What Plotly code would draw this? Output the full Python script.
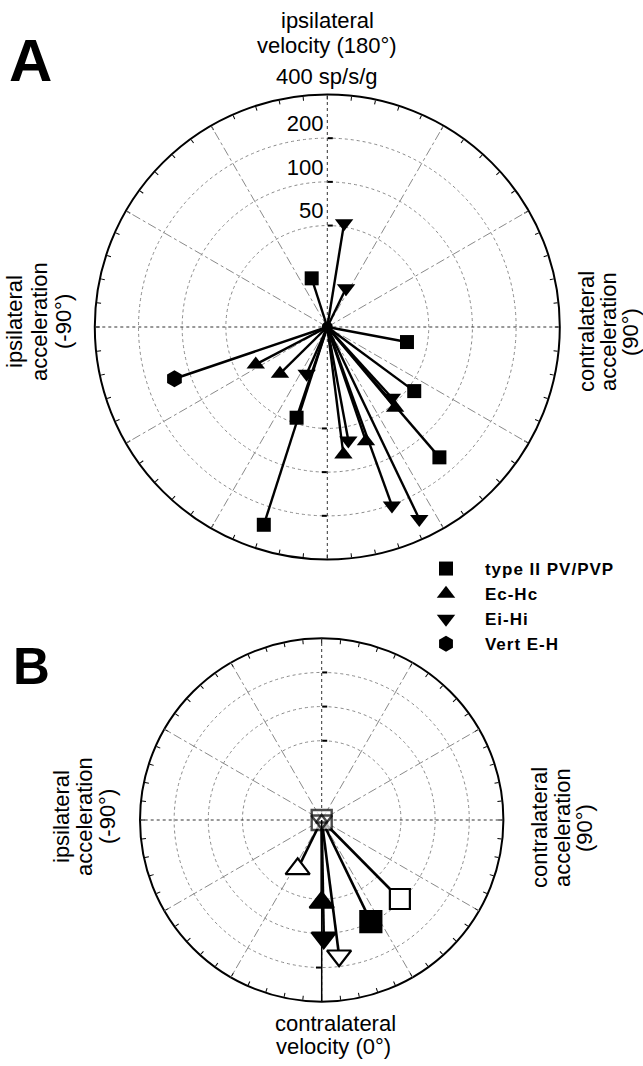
import math
import plotly.graph_objects as go

FONT = "Liberation Sans, Arial, Helvetica, sans-serif"

# ---------------- data (r in sp/s/g, theta in degrees: 0 = contralateral velocity) ----------------
R_MIN = 10          # centre of the log radial axis (vectors start here)
R_MAX = 400         # outer ring
RING_VALS = [50, 100, 200]
RING_TEXT = ["50", "100", "200"]

# Panel A
a_type2_theta = [197.8, 79.3, 53.6, 40.7, -18.7, -17.8]
a_type2_r = [22.5, 36.2, 55.5, 153, 45.7, 270]
a_echc_theta = [40.0, 18.7, 7.2, -45.4, -62.4]
a_echc_r = [53.3, 67.8, 76.9, 28.7, 36.0]
a_eihi_theta = [170.8, 154.2, 42.4, 19.9, 25.6, 10.5, -23.8]
a_eihi_r = [52.9, 19.8, 45.7, 203.7, 293, 62.4, 22.5]
a_vert_theta = [-71.3]
a_vert_r = [129.4]

# Panel B (filled and open symbols)
b_sq_fill_theta, b_sq_fill_r = [25.8], [99]
b_sq_open_theta, b_sq_open_r = [44.7], [95.5]
b_up_fill_theta, b_up_fill_r = [0.0], [53.4]
b_up_open_theta, b_up_open_r = [-26.2], [30.2]
b_dn_fill_theta, b_dn_fill_r = [1.0], [109.3]
b_dn_open_theta, b_dn_open_r = [7.3], [161]

LEGEND_NAMES = ["type II PV/PVP", "Ec-Hc", "Ei-Hi", "Vert E-H"]


def vectors(thetas, rs):
    """lines from the centre (R_MIN) to every point, separated by gaps"""
    rr, tt = [], []
    for t, r in zip(thetas, rs):
        rr += [R_MIN, r, None]
        tt += [t, t, None]
    return rr, tt


fig = go.Figure()


def placeholder(sub):
    # an invisible trace so that the (otherwise empty) overlay subplot is drawn
    fig.add_trace(go.Scatterpolar(r=[R_MIN], theta=[0], mode="markers", subplot=sub,
                                  marker=dict(size=1, opacity=0), showlegend=False,
                                  hoverinfo="skip"))


for sub in ["polar", "polar2"]:
    placeholder(sub)

# ---------------- panel A ----------------
a_all_t = a_type2_theta + a_echc_theta + a_eihi_theta + a_vert_theta
a_all_r = a_type2_r + a_echc_r + a_eihi_r + a_vert_r
lr, lt = vectors(a_all_t, a_all_r)
fig.add_trace(go.Scatterpolar(r=lr, theta=lt, mode="lines", subplot="polar3",
                              line=dict(color="black", width=2.4), showlegend=False,
                              connectgaps=False, hoverinfo="skip"))
# common origin of the vectors
fig.add_trace(go.Scatterpolar(r=[R_MIN], theta=[0], mode="markers", subplot="polar3",
                              marker=dict(symbol="circle", size=11, color="black"),
                              showlegend=False, hoverinfo="skip"))

NB = "\u00a0" * 4
for name, th, rr, sym, size in [
    (LEGEND_NAMES[0], a_type2_theta, a_type2_r, "square", 14),
    (LEGEND_NAMES[1], a_echc_theta, a_echc_r, "triangle-up", 16),
    (LEGEND_NAMES[2], a_eihi_theta, a_eihi_r, "triangle-down", 16),
    (LEGEND_NAMES[3], a_vert_theta, a_vert_r, "hexagon", 17),
]:
    fig.add_trace(go.Scatterpolar(
        r=rr, theta=th, mode="markers", subplot="polar3",
        name=NB + '<b><span style="letter-spacing:1px">' + name + "</span></b>",
        marker=dict(symbol=sym, size=size, color="black", line=dict(width=0))))

# ---------------- panel B ----------------
for sub in ["polar4", "polar5"]:
    placeholder(sub)

b_all_t = (b_sq_fill_theta + b_sq_open_theta + b_up_fill_theta + b_up_open_theta
           + b_dn_fill_theta + b_dn_open_theta)
b_all_r = b_sq_fill_r + b_sq_open_r + b_up_fill_r + b_up_open_r + b_dn_fill_r + b_dn_open_r
lr, lt = vectors(b_all_t, b_all_r)
fig.add_trace(go.Scatterpolar(r=lr, theta=lt, mode="lines", subplot="polar6",
                              line=dict(color="black", width=2.6), showlegend=False,
                              connectgaps=False, hoverinfo="skip"))

# open markers at the common origin of the vectors
fig.add_trace(go.Scatterpolar(r=[R_MIN, R_MIN, R_MIN], theta=[0, 0, 0], mode="markers",
                              subplot="polar6", showlegend=False, hoverinfo="skip",
                              marker=dict(symbol=["square", "triangle-down", "triangle-up"],
                                          size=[20, 18, 10], color="white",
                                          line=dict(color="black", width=2.4))))
for th, rr, sym, size, filled in [
    (b_sq_fill_theta, b_sq_fill_r, "square", 21, True),
    (b_sq_open_theta, b_sq_open_r, "square", 20, False),
    (b_up_fill_theta, b_up_fill_r, "triangle-up", 21, True),
    (b_up_open_theta, b_up_open_r, "triangle-up", 21, False),
    (b_dn_fill_theta, b_dn_fill_r, "triangle-down", 21, True),
    (b_dn_open_theta, b_dn_open_r, "triangle-down", 21, False),
]:
    fig.add_trace(go.Scatterpolar(r=rr, theta=th, mode="markers", subplot="polar6",
                                  showlegend=False,
                                  marker=dict(symbol=sym, size=size,
                                              color="black" if filled else "white",
                                              line=dict(color="black", width=2.2))))

# ---------------- polar axes ----------------
W, H = 643, 1066
RANGE = [math.log10(R_MIN), math.log10(R_MAX)]


def dom(cx, cy, rad):
    return dict(x=[(cx - rad) / W, (cx + rad) / W], y=[1 - (cy + rad) / H, 1 - (cy - rad) / H])


def base_polar(d, labels):
    return dict(
        domain=d, bgcolor="white",
        angularaxis=dict(rotation=270, direction="counterclockwise", tickmode="array",
                         tickvals=list(range(0, 360, 6)), ticks="inside", ticklen=4,
                         tickwidth=1, tickcolor="black", showticklabels=False,
                         showgrid=False, showline=True, linecolor="black", linewidth=2),
        radialaxis=dict(type="log", range=RANGE, tickmode="array", tickvals=RING_VALS,
                        ticktext=[t + "<br>\u00a0" for t in RING_TEXT],
                        showticklabels=labels, angle=90,
                        side="counterclockwise", ticks="inside", ticklen=5, tickwidth=1.5,
                        tickcolor="black", showline=False, showgrid=True, gridcolor="#8a8a8a",
                        griddash="dot", gridwidth=1, tickangle=90,
                        tickfont=dict(family=FONT, size=22, color="black")),
    )


def spoke_polar(d):
    return dict(
        domain=d, bgcolor="rgba(0,0,0,0)",
        angularaxis=dict(rotation=270, direction="counterclockwise", tickmode="array",
                         tickvals=[30, 60, 120, 150, 210, 240, 300, 330], ticks="",
                         showticklabels=False, showgrid=True, gridcolor="#8a8a8a",
                         griddash="dashdot", gridwidth=1, showline=False),
        radialaxis=dict(type="log", range=RANGE, visible=False),
    )


def data_polar(d, solid_axis):
    return dict(
        domain=d, bgcolor="rgba(0,0,0,0)",
        angularaxis=dict(rotation=270, direction="counterclockwise", tickmode="array",
                         tickvals=[0, 90, 180, 270], ticks="", showticklabels=False,
                         showgrid=True, gridcolor="#333333", griddash="dot", gridwidth=1,
                         showline=False),
        radialaxis=dict(type="log", range=RANGE, tickmode="array", tickvals=RING_VALS,
                        showticklabels=False, angle=270, ticks="outside", ticklen=5,
                        tickwidth=1.5, tickcolor="black", showline=solid_axis,
                        linecolor="black", linewidth=1.5, showgrid=False),
    )


dA = dom(327.3, 327.0, 232.5)
dB = dom(321.7, 820.0, 181.7)

fig.update_layout(
    width=W, height=H, margin=dict(l=0, r=0, t=0, b=0),
    paper_bgcolor="white", plot_bgcolor="white",
    font=dict(family=FONT, size=22, color="black"),
    polar=base_polar(dA, True), polar2=spoke_polar(dA), polar3=data_polar(dA, False),
    polar4=base_polar(dB, False), polar5=spoke_polar(dB), polar6=data_polar(dB, True),
    showlegend=True,
    legend=dict(x=426 / W, y=1 - 551 / H, xanchor="left", yanchor="top",
                bgcolor="rgba(0,0,0,0)", font=dict(family=FONT, size=17, color="black"),
                itemwidth=30, tracegroupgap=0),
)


def label(text, x, y, size=22, angle=0, bold=False):
    fig.add_annotation(text=("<b>%s</b>" % text) if bold else text, x=x / W, y=1 - y / H,
                       xref="paper", yref="paper", showarrow=False, textangle=angle,
                       xanchor="center", yanchor="middle",
                       font=dict(family=FONT, size=size, color="black"))


label("A", 31, 60, size=60, bold=True)
label("B", 31.5, 666, size=51, bold=True)

# panel A axis titles
label("ipsilateral", 327, 20.5)
label("velocity (180°)", 327, 46)
label("400 sp/s/g", 327, 76)
for txt, x in [("ipsilateral", 14), ("acceleration", 39), ("(-90°)", 63)]:
    label(txt, x, 322, angle=-90)
for txt, x in [("contralateral", 586), ("acceleration", 608), ("(90°)", 630)]:
    label(txt, x, 332, angle=-90)

# panel B axis titles
for txt, x in [("ipsilateral", 61), ("acceleration", 84), ("(-90°)", 107)]:
    label(txt, x, 817, angle=-90)
for txt, x in [("contralateral", 539), ("acceleration", 562), ("(90°)", 584)]:
    label(txt, x, 828, angle=-90)
label("contralateral", 335, 1023)
label("velocity (0°)", 333, 1046)

fig.write_html("out.html")
